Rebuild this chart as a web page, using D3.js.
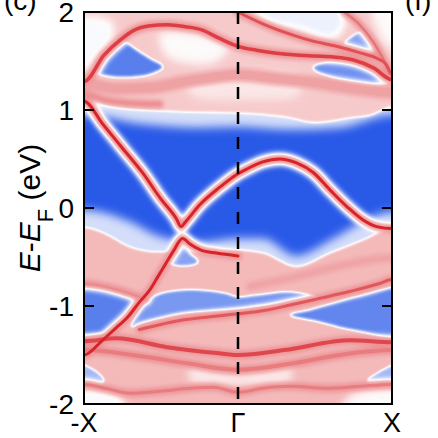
<!DOCTYPE html>
<html>
<head>
<meta charset="utf-8">
<title>Spectral function -X - Γ - X</title>
<script src="https://cdn.jsdelivr.net/npm/d3@7"></script>
<style>
  body { margin: 0; background: #fff; }
  text { font-family: "Liberation Sans", Arial, Helvetica, sans-serif; fill: #000; }
</style>
</head>
<body>
<svg id="chart" width="438" height="438"></svg>
<script>
// ---------- data: k in units of X, E - EF in eV ----------
var yTicks = [2, 1, 0, -1, -2];
var kTicks = [-1, 0, 1];
var kLabels = ["-X", "\u0393", "X"];

// surface / bulk bands
var vK = [-1, -0.88, -0.75, -0.62, -0.5, -0.4, -0.37, -0.34, -0.25, -0.12, 0, 0.06, 0.16, 0.27, 0.38, 0.49, 0.6, 0.71, 0.81, 0.9, 1];
var vE = [1.09, 0.86, 0.61, 0.36, 0.09, -0.11, -0.19, -0.14, 0.03, 0.21, 0.35, 0.4, 0.47, 0.5, 0.46, 0.36, 0.18, 0.01, -0.12, -0.19, -0.21];
var cK = [-1, -0.88, -0.79, -0.72, -0.64, -0.57, -0.52, -0.47, -0.42, -0.36, -0.31, -0.24, -0.14, 0];
var cE = [-1.5, -1.35, -1.22, -1.12, -0.96, -0.83, -0.7, -0.57, -0.44, -0.31, -0.37, -0.43, -0.46, -0.49];
var t1K = [-1, -0.87, -0.76, -0.68, -0.57, -0.46, -0.34, -0.24, -0.12, 0, 0.12, 0.25, 0.38, 0.5, 0.62, 0.75, 0.88, 1];
var t1E = [1.29, 1.56, 1.72, 1.81, 1.86, 1.87, 1.85, 1.82, 1.73, 1.65, 1.61, 1.58, 1.56, 1.55, 1.54, 1.51, 1.43, 1.31];
var t2K = [0, 0.16, 0.31, 0.47, 0.64, 0.8, 0.9, 0.96, 1];
var t2E = [2.0, 1.88, 1.79, 1.71, 1.65, 1.58, 1.53, 1.47, 1.37];
var t3K = [0.69, 0.79, 0.88, 0.94, 1];
var t3E = [2.0, 1.87, 1.69, 1.53, 1.35];
var l1K = [-1, -0.79, -0.56, -0.35, -0.14, 0, 0.25, 0.5, 0.75, 1];
var l1E = [1.27, 1.22, 1.23, 1.29, 1.34, 1.36, 1.32, 1.28, 1.22, 1.18];
var l2K = [-1, -0.86, -0.7, -0.51];
var l2E = [1.16, 1.1, 1.07, 1.06];
var dK = [-0.64, -0.35, -0.12, 0, 0.19, 0.34, 0.51, 0.73, 0.92, 1];
var dE = [-1.24, -1.14, -1.1, -1.08, -1.04, -0.99, -0.93, -0.85, -0.77, -0.73];
var lb1K = [-1, -0.79, -0.46, -0.14, 0, 0.3, 0.73, 1];
var lb1E = [-1.36, -1.33, -1.42, -1.48, -1.5, -1.45, -1.35, -1.37];
var lb2K = [-1, -0.64, -0.31, 0, 0.34, 0.66, 1];
var lb2E = [-1.45, -1.51, -1.59, -1.65, -1.59, -1.5, -1.45];
var lb3K = [-1, -0.86, -0.7, -0.51, -0.31, -0.16, 0, 0.16, 0.34, 0.58, 0.79, 1];
var lb3E = [-1.8, -1.84, -1.89, -1.87, -1.84, -1.83, -1.88, -1.84, -1.82, -1.84, -1.82, -1.8];
var llpK = [-1, -0.9, -0.79, -0.67, -0.6];
var llpE = [-0.77, -0.79, -0.83, -0.89, -0.93];
var m2K = [0.08, 0.38, 0.66, 1];
var m2E = [-0.8, -0.7, -0.59, -0.51];

// bulk continuum edges
var uK = [-1, -0.79, -0.35, 0, 0.3, 0.51, 0.73, 0.87, 1];
var uE = [1.1, 1.03, 0.98, 0.97, 0.93, 0.87, 0.92, 0.95, 1.03];
var guK = [-1, -0.64, -0.25, 0, 0.34, 0.66, 1];
var guE = [0.95, 0.86, 0.82, 0.83, 0.8, 0.82, 0.95];
var mK = [-1, -0.9, -0.68, -0.51, -0.36, -0.25, -0.12, 0, 0.16, 0.38, 0.6, 0.81, 0.97, 1];
var mE = [-0.2, -0.24, -0.41, -0.45, -0.43, -0.45, -0.44, -0.43, -0.46, -0.6, -0.46, -0.33, -0.22, -0.21];
var gmK = [-1, -0.7, -0.51, -0.25, 0, 0.16, 0.38, 0.6, 0.81, 1];
var gmE = [-0.02, -0.14, -0.29, -0.35, -0.31, -0.31, -0.49, -0.33, -0.14, -0.04];

// gaps (pockets) inside the continuum
var p1K = [-0.95, -0.88, -0.81, -0.75, -0.66, -0.57, -0.49, -0.57, -0.68, -0.8, -0.9];
var p1E = [1.41, 1.51, 1.61, 1.69, 1.61, 1.52, 1.44, 1.37, 1.34, 1.34, 1.37];
var p2K = [0.69, 0.82, 0.89, 0.79];
var p2E = [1.66, 1.8, 1.61, 1.61];
var p3K = [0.49, 0.62, 0.76, 0.89, 0.98, 0.84, 0.62];
var p3E = [1.43, 1.5, 1.47, 1.39, 1.29, 1.26, 1.33];
var p4K = [-0.45, -0.4, -0.35, -0.31, -0.26, -0.35];
var p4E = [-0.55, -0.47, -0.42, -0.47, -0.55, -0.59];
var p5K = [-1, -0.83, -0.7, -0.65, -0.74, -0.82, -0.9, -1];
var p5E = [-0.81, -0.84, -0.9, -0.94, -1.12, -1.24, -1.28, -1.27];
var p6K = [-0.56, -0.35, -0.09, 0, 0.12, 0.34, 0.51, 0.34, 0.19, 0, -0.35, -0.64, -0.69];
var p6E = [-0.92, -0.84, -0.87, -0.91, -0.89, -0.86, -0.92, -0.95, -0.99, -1.03, -1.07, -1.18, -1.21];
var p7K = [0.34, 0.47, 0.63, 0.79, 1, 1, 0.74, 0.53];
var p7E = [-1.09, -1.04, -0.97, -0.9, -0.83, -1.29, -1.24, -1.16];
var p8K = [-1, -0.92, -0.87, -0.93, -1];
var p8E = [-1.57, -1.67, -1.77, -1.8, -1.8];
var p9K = [1, 0.92, 0.84, 0.92, 1];
var p9E = [-1.57, -1.67, -1.77, -1.8, -1.8];

// paler patches of the continuum
var w1K = [-1, -0.82, -0.82, -0.9, -0.97, -1];
var w1E = [1.9, 1.9, 1.71, 1.56, 1.43, 1.41];
var w2K = [-0.51, -0.25, -0.06, -0.15, -0.38, -0.47];
var w2E = [1.77, 1.77, 1.64, 1.49, 1.49, 1.56];
var w3K = [0.08, 0.66, 0.68, 0.6, 0.4, 0.16];
var w3E = [2, 2, 1.82, 1.73, 1.82, 1.92];
var w4K = [-0.31, 0.08, 0.4, 0.4, 0.08, -0.31];
var w4E = [1.31, 1.39, 1.33, 1.15, 1.1, 1.15];
var w5K = [0.87, 1, 1, 0.94];
var w5E = [2, 2, 1.56, 1.71];
var w6K = [-0.31, 0, 0.34, 0.34, 0, -0.31];
var w6E = [-1.61, -1.67, -1.61, -1.78, -1.82, -1.78];
var w7K = [-1, -0.77, -0.73, -1];
var w7E = [-1.89, -1.91, -2, -2];
var w8K = [0.73, 1, 1, 0.66];
var w8E = [-1.91, -1.88, -2, -2];

// ---------- layout ----------
var pL = 84, pR = 392, pT = 12, pB = 404;
var x = d3.scaleLinear().domain([-1, 1]).range([pL, pR]);
var y = d3.scaleLinear().domain([-2, 2]).range([pB, pT]);

// intensity -> colour (blue / white / red)
var cmap = d3.scaleLinear()
  .domain([0, 0.45, 0.58, 1])
  .range(["#2a5ae8", "#ffffff", "#f5c0c1", "#d8232a"])
  .clamp(true);

function grey(g) { var v = Math.round(g * 255); return "rgb(" + v + "," + v + "," + v + ")"; }

// layer tables built from the arrays above
var bands = [
  {k: llpK, e: llpE, g: 0.72, w: 2.5},
  {k: m2K, e: m2E, g: 0.65, w: 4},
  {k: l1K, e: l1E, g: 0.66, w: 8},
  {k: l2K, e: l2E, g: 0.7, w: 3},
  {k: lb2K, e: lb2E, g: 0.76, w: 4},
  {k: lb3K, e: lb3E, g: 0.76, w: 3},
  {k: t3K, e: t3E, g: 0.78, w: 2.5},
  {k: t2K, e: t2E, g: 0.88, w: 3},
  {k: dK, e: dE, g: 0.86, w: 3},
  {k: lb1K, e: lb1E, g: 0.9, w: 4},
  {k: t1K, e: t1E, g: 0.93, w: 3.5},
  {k: cK, e: cE, g: 1, w: 3},
  {k: vK, e: vE, g: 1, w: 3}
];
var pockets = [
  {k: p1K, e: p1E, g: 0.1}, {k: p2K, e: p2E, g: 0.2}, {k: p3K, e: p3E, g: 0.15},
  {k: p4K, e: p4E, g: 0.2}, {k: p5K, e: p5E, g: 0.1}, {k: p6K, e: p6E, g: 0.17},
  {k: p7K, e: p7E, g: 0.12}, {k: p8K, e: p8E, g: 0.26}, {k: p9K, e: p9E, g: 0.26}
];
var patches = [
  {k: w1K, e: w1E, g: 0.44}, {k: w2K, e: w2E, g: 0.46}, {k: w3K, e: w3E, g: 0.41},
  {k: w4K, e: w4E, g: 0.5}, {k: w5K, e: w5E, g: 0.46}, {k: w6K, e: w6E, g: 0.5},
  {k: w7K, e: w7E, g: 0.44}, {k: w8K, e: w8E, g: 0.46}
];

// carry edge points past the frame so blur does not fade at the border
function pad(pts) {
  var out = pts.slice();
  if (out[0][0] <= -1) out.unshift([-1.12, out[0][1]]);
  if (out[out.length - 1][0] >= 1) out.push([1.12, out[out.length - 1][1]]);
  return out;
}
function ext(d) {
  var k = d[0] <= -1 ? -1.1 : d[0] >= 1 ? 1.1 : d[0];
  var e = d[1] <= -2 ? -2.15 : d[1] >= 2 ? 2.15 : d[1];
  return [k, e];
}

var svg = d3.select("#chart");
var defs = svg.append("defs");

function blurFilter(id, s) {
  defs.append("filter").attr("id", id)
    .attr("filterUnits", "userSpaceOnUse")
    .attr("x", 0).attr("y", 0).attr("width", 438).attr("height", 438)
    .attr("color-interpolation-filters", "sRGB")
    .append("feGaussianBlur").attr("stdDeviation", s);
}
blurFilter("bCore", 0.6);
blurFilter("bMid", 1.2);
blurFilter("bSoft", 2.2);
blurFilter("bHalo", 2.8);
blurFilter("bCont", 1.4);
blurFilter("bGlow", 5);
blurFilter("bPatch", 4);

var cf = defs.append("filter").attr("id", "cmap")
  .attr("filterUnits", "userSpaceOnUse")
  .attr("x", pL).attr("y", pT).attr("width", pR - pL).attr("height", pB - pT)
  .attr("color-interpolation-filters", "sRGB");
var ct = cf.append("feComponentTransfer");
var cols = d3.range(0, 51).map(function(i) { return d3.rgb(cmap(i / 50)); });
["r", "g", "b"].forEach(function(ch) {
  ct.append("feFunc" + ch.toUpperCase()).attr("type", "table")
    .attr("tableValues", cols.map(function(c) { return (c[ch] / 255).toFixed(4); }).join(" "));
});

var bandLine = d3.line().x(function(d) { return x(d[0]); }).y(function(d) { return y(d[1]); })
  .curve(d3.curveMonotoneX);
var blob = d3.line().x(function(d) { return x(ext(d)[0]); }).y(function(d) { return y(ext(d)[1]); })
  .curve(d3.curveCatmullRomClosed.alpha(0.5));

// ---------- spectral map drawn in grey, then colour-mapped ----------
var map = svg.append("g").attr("filter", "url(#cmap)").style("isolation", "isolate");
map.append("rect").attr("x", pL - 30).attr("y", 0).attr("width", pR - pL + 60).attr("height", 438)
  .attr("fill", "#000");

var glow = map.append("g").attr("filter", "url(#bGlow)").attr("fill", grey(0.36));
glow.append("path").datum(pad(d3.zip(guK, guE)))
  .attr("d", d3.area().x(function(d) { return x(d[0]); }).y0(pT - 30).y1(function(d) { return y(d[1]); })
    .curve(d3.curveMonotoneX));
glow.append("path").datum(pad(d3.zip(gmK, gmE)))
  .attr("d", d3.area().x(function(d) { return x(d[0]); }).y0(function(d) { return y(d[1]); }).y1(pB + 30)
    .curve(d3.curveMonotoneX));

var cont = map.append("g").attr("filter", "url(#bCont)");
cont.append("path").datum(pad(d3.zip(uK, uE))).attr("fill", grey(0.56))
  .attr("d", d3.area().x(function(d) { return x(d[0]); }).y0(pT - 30).y1(function(d) { return y(d[1]); })
    .curve(d3.curveMonotoneX));
cont.append("path").datum(pad(d3.zip(mK, mE))).attr("fill", grey(0.6))
  .attr("d", d3.area().x(function(d) { return x(d[0]); }).y0(function(d) { return y(d[1]); }).y1(pB + 30)
    .curve(d3.curveMonotoneX));
cont.selectAll("path.pocket").data(pockets).enter().append("path").attr("class", "pocket")
  .attr("fill", function(p) { return grey(p.g); })
  .attr("d", function(p) { return blob(d3.zip(p.k, p.e)); });

map.append("g").attr("filter", "url(#bPatch)")
  .selectAll("path").data(patches).enter().append("path")
  .attr("fill", function(p) { return grey(p.g); })
  .attr("d", function(p) { return blob(d3.zip(p.k, p.e)); });

// each band: wide faint halo, mid ring, soft fringe, bright core; combined with "lighten"
[["bHalo", function(b) { return 0.4; }, function(b) { return b.w + 11; }],
 ["bMid", function(b) { return 0.5; }, function(b) { return b.w + 4; }],
 ["bSoft", function(b) { return Math.min(b.g, 0.7); }, function(b) { return b.w + 5; }],
 ["bCore", function(b) { return b.g; }, function(b) { return b.w; }]].forEach(function(layer) {
  map.append("g").attr("filter", "url(#" + layer[0] + ")").style("mix-blend-mode", "lighten")
    .selectAll("path").data(bands).enter().append("path")
    .attr("fill", "none")
    .attr("stroke", function(b) { return grey(layer[1](b)); })
    .attr("stroke-width", layer[2])
    .attr("stroke-linecap", "round")
    .attr("d", function(b) { return bandLine(pad(d3.zip(b.k, b.e))); });
});

// ---------- axes ----------
svg.append("line")
  .attr("x1", x(0)).attr("x2", x(0)).attr("y1", pT).attr("y2", pB)
  .attr("stroke", "#000").attr("stroke-width", 2.5).attr("stroke-dasharray", "12 13");

svg.append("g").selectAll("line").data(yTicks.slice(1, -1)).enter().append("line")
  .attr("x1", pL).attr("x2", pL + 10).attr("y1", y).attr("y2", y)
  .attr("stroke", "#000").attr("stroke-width", 2);
svg.append("g").selectAll("line").data(yTicks.slice(1, -1)).enter().append("line")
  .attr("x1", pR).attr("x2", pR - 10).attr("y1", y).attr("y2", y)
  .attr("stroke", "#000").attr("stroke-width", 2);

svg.append("rect").attr("x", pL).attr("y", pT).attr("width", pR - pL).attr("height", pB - pT)
  .attr("fill", "none").attr("stroke", "#000").attr("stroke-width", 2);

svg.append("g").selectAll("text").data(yTicks).enter().append("text")
  .attr("x", pL - 10).attr("y", y).attr("dy", "0.36em")
  .attr("text-anchor", "end").style("font-size", "28px")
  .text(function(d) { return d; });

svg.append("g").selectAll("text").data(kTicks).enter().append("text")
  .attr("x", x).attr("y", 432)
  .attr("text-anchor", "middle").style("font-size", "27px")
  .text(function(d, i) { return kLabels[i]; });

var yl = svg.append("text")
  .attr("transform", "translate(40," + y(0) + ") rotate(-90)")
  .attr("text-anchor", "middle").style("font-size", "30px");
yl.append("tspan").style("font-style", "italic").text("E");
yl.append("tspan").text("-");
yl.append("tspan").style("font-style", "italic").text("E");
yl.append("tspan").attr("baseline-shift", "sub").style("font-size", "22px").text("F");
yl.append("tspan").text(" (eV)");

svg.append("text").attr("x", 4).attr("y", 10).style("font-size", "28px").text("(c)");
svg.append("text").attr("x", 405).attr("y", 10).style("font-size", "28px").text("(f)");
</script>
</body>
</html>
